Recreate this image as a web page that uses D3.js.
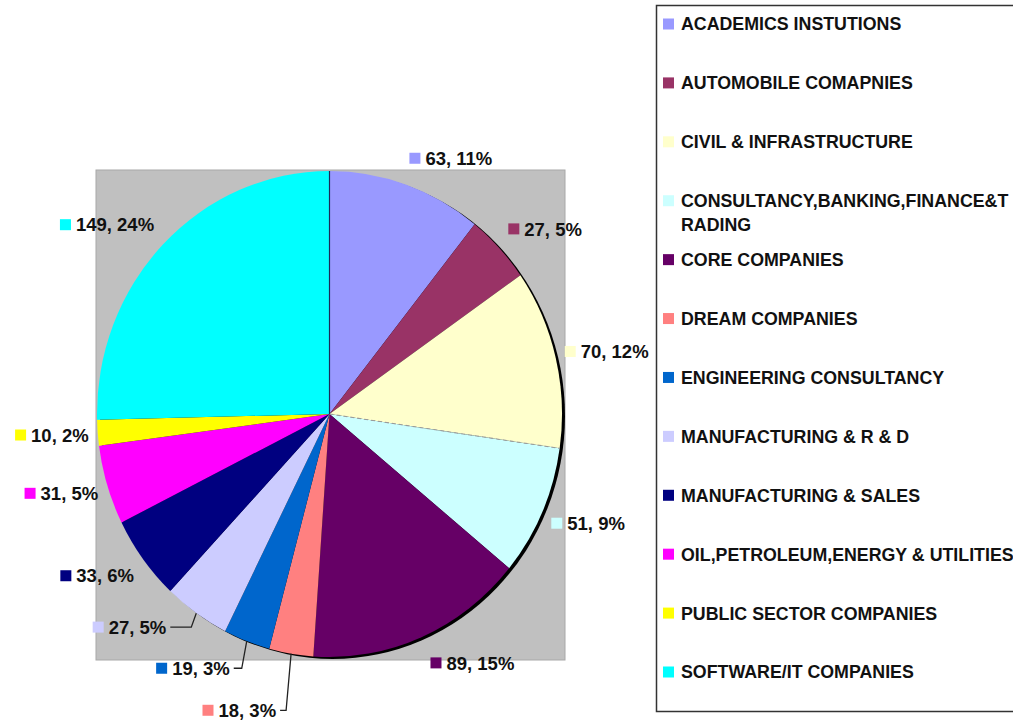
<!DOCTYPE html>
<html>
<head>
<meta charset="utf-8">
<script src="https://cdn.jsdelivr.net/npm/d3@7"></script>
<style>
	body { margin: 0; background: #fff; }
	text { font-family: "Liberation Sans", Arial, sans-serif; font-weight: bold; fill: #111; }
</style>
</head>
<body>
<div id="chart"></div>
<script>

///////////////////////////////////////////////////////////////////////////
//////////////////////////////// Data /////////////////////////////////////
///////////////////////////////////////////////////////////////////////////

var categories = [
	"ACADEMICS INSTUTIONS",
	"AUTOMOBILE COMAPNIES",
	"CIVIL & INFRASTRUCTURE",
	"CONSULTANCY,BANKING,FINANCE&T\nRADING",
	"CORE COMPANIES",
	"DREAM  COMPANIES",
	"ENGINEERING CONSULTANCY",
	"MANUFACTURING & R & D",
	"MANUFACTURING & SALES",
	"OIL,PETROLEUM,ENERGY & UTILITIES",
	"PUBLIC SECTOR COMPANIES",
	"SOFTWARE/IT COMPANIES"
];
var counts = [63, 27, 70, 51, 89, 18, 19, 27, 33, 31, 10, 149];
var percentLabels = [11, 5, 12, 9, 15, 3, 3, 5, 6, 5, 2, 24];
var colors = ["#9999FF", "#993366", "#FFFFCC", "#CCFFFF", "#660066", "#FF8080",
	"#0066CC", "#CCCCFF", "#000080", "#FF00FF", "#FFFF00", "#00FFFF"];

///////////////////////////////////////////////////////////////////////////
//////////////////////////////// Setup ////////////////////////////////////
///////////////////////////////////////////////////////////////////////////

var width = 1013,
	height = 720;

var svg = d3.select("#chart")
	.append("svg")
	.attr("width", width)
	.attr("height", height);

var plot = { x: 96, y: 170, w: 469, h: 490 };
var cx = 329.5, cy = 414,
	rx = 232.5, ry = 243;

//Gray plot area
svg.append("rect")
	.attr("x", plot.x)
	.attr("y", plot.y)
	.attr("width", plot.w)
	.attr("height", plot.h)
	.style("fill", "#C0C0C0")
	.style("stroke", "#a8a8a8")
	.style("stroke-width", 1);

var pie = d3.pie().sort(null).value(function(d) { return d; });
var arcs = pie(counts);

var arc = d3.arc().innerRadius(0).outerRadius(rx);

//Pie is slightly taller than wide, so squash a circle into an ellipse
var pieG = svg.append("g")
	.attr("transform", "translate(" + cx + "," + cy + ") scale(1," + (ry/rx) + ")");

//Shadow under the pie
pieG.append("circle")
	.attr("cx", 3)
	.attr("cy", 1.8)
	.attr("r", rx)
	.style("fill", "#000");

pieG.selectAll(".slice")
	.data(arcs)
	.enter().append("path")
	.attr("class", "slice")
	.attr("d", arc)
	.style("fill", function(d,i) { return colors[i]; });

//Dashed edge between civil and consultancy slice
var dashAngle = arcs[3].startAngle;
pieG.append("line")
	.attr("x1", 0).attr("y1", 0)
	.attr("x2", rx*Math.sin(dashAngle))
	.attr("y2", -rx*Math.cos(dashAngle))
	.style("stroke", "#999")
	.style("stroke-width", 1)
	.style("stroke-dasharray", "4,3");

//Dark edge at the top
pieG.append("line")
	.attr("x1", 0).attr("y1", 0)
	.attr("x2", 0).attr("y2", -rx)
	.style("stroke", "#1a2a5a")
	.style("stroke-width", 1.2);

///////////////////////////////////////////////////////////////////////////
//////////////////////////////// Labels ///////////////////////////////////
///////////////////////////////////////////////////////////////////////////

//Labels that collided got moved by hand, these get a leader line
var labelNudge = { 0: [-6, 0], 5: [-6, 29], 6: [-8, 1], 7: [-21, -9] };
var leaderLines = [5, 6, 7];

var labelG = svg.append("g").attr("class", "labels");

arcs.forEach(function(d, i) {
	var a = (d.startAngle + d.endAngle) / 2,
		s = Math.sin(a), c = Math.cos(a);
	var ex = cx + rx*s,
		ey = cy - ry*c;
	var right = s > 0;
	var ax = ex + (right ? 9 : -9),
		ay = ey - 28*c;
	var nudge = labelNudge[i];
	if (nudge) { ax += nudge[0]; ay += nudge[1]; }

	var g = labelG.append("g");
	var t = g.append("text")
		.attr("y", ay)
		.attr("dy", "0.36em")
		.style("font-size", "18.5px")
		.text(counts[i] + ", " + percentLabels[i] + "%");
	var tw = t.node().getComputedTextLength();
	var sqX = right ? ax : ax - tw - 16;
	t.attr("x", sqX + 16);
	g.append("rect")
		.attr("x", sqX)
		.attr("y", ay - 5.5)
		.attr("width", 11)
		.attr("height", 11)
		.style("fill", colors[i]);

	if (leaderLines.indexOf(i) > -1) {
		var endX = sqX + 16 + tw + 4;
		var elbowX = ex - 5;
		g.append("polyline")
			.attr("points", [[endX, ay], [elbowX, ay], [ex, ey]].map(function(p) { return p.join(","); }).join(" "))
			.style("fill", "none")
			.style("stroke", "#222")
			.style("stroke-width", 1.3);
	}
});

///////////////////////////////////////////////////////////////////////////
//////////////////////////////// Legend ///////////////////////////////////
///////////////////////////////////////////////////////////////////////////

svg.append("rect")
	.attr("x", 656.5)
	.attr("y", 5.5)
	.attr("width", 380)
	.attr("height", 706)
	.style("fill", "#fff")
	.style("stroke", "#333")
	.style("stroke-width", 1.5);

var legendY = d3.scalePoint()
	.domain(d3.range(categories.length))
	.range([24, 672]);

var legend = svg.selectAll(".legendItem")
	.data(categories)
	.enter().append("g")
	.attr("class", "legendItem")
	.attr("transform", function(d,i) { return "translate(663," + legendY(i) + ")"; });

legend.append("rect")
	.attr("x", 0)
	.attr("y", -5.5)
	.attr("width", 11)
	.attr("height", 11)
	.style("fill", function(d,i) { return colors[i]; });

legend.append("text")
	.style("font-size", "17.8px")
	.selectAll("tspan")
	.data(function(d) { return d.split("\n"); })
	.enter().append("tspan")
	.attr("x", 18)
	.attr("y", function(d,j) { return j*24; })
	.attr("dy", "0.36em")
	.text(function(d) { return d; });

</script>
</body>
</html>
